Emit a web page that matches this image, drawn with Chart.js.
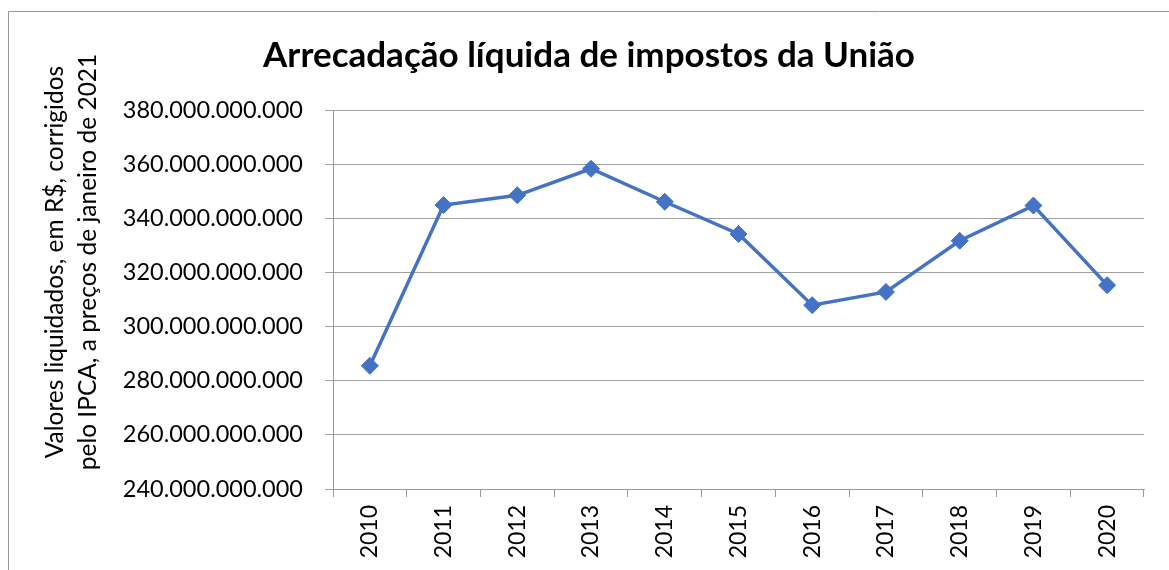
<!DOCTYPE html>
<html>
<head>
<meta charset="utf-8">
<script src="https://cdn.jsdelivr.net/npm/chart.js@4/dist/chart.umd.min.js"></script>
<style>
  body { margin: 0; background: #fff; }
</style>
</head>
<body>
<canvas id="myChart" width="1169" height="570"></canvas>
<script>
const years = ['2010','2011','2012','2013','2014','2015','2016','2017','2018','2019','2020'];
const arrecadacao = [285.5e9, 344.9e9, 348.5e9, 358.3e9, 346.1e9, 334.2e9, 307.9e9, 312.8e9, 331.7e9, 344.7e9, 315.3e9];
const yTitleLines = ['Valores liquidados, em R$, corrigidos', 'pelo IPCA, a preços de janeiro de 2021'];
const chartTitle = 'Arrecadação líquida de impostos da União';

const fontName = 'Lato';

// moldura cinza e titulo do eixo y
const extras = {
  id: 'extras',
  beforeDraw(chart) {
    const ctx = chart.ctx;
    ctx.save();
    ctx.strokeStyle = '#999';
    ctx.lineWidth = 1;
    ctx.beginPath();
    ctx.moveTo(8.5, 600);
    ctx.lineTo(8.5, 11.5);
    ctx.lineTo(1200, 11.5);
    ctx.stroke();
    ctx.restore();
  },
  afterDraw(chart) {
    const ctx = chart.ctx;
    ctx.save();
    ctx.font = '24.5px ' + fontName;
    ctx.fillStyle = '#000';
    ctx.textAlign = 'center';
    ctx.textBaseline = 'middle';
    const xs = [55, 88];
    yTitleLines.forEach((t, i) => {
      ctx.save();
      ctx.translate(xs[i], 262);
      ctx.rotate(-Math.PI / 2);
      ctx.fillText(t, 0, 0);
      ctx.restore();
    });
    ctx.restore();
  }
};

new Chart('myChart', {
  type: 'line',
  data: {
    labels: years,
    datasets: [{
      data: arrecadacao,
      borderColor: '#4472C4',
      backgroundColor: '#4472C4',
      borderWidth: 3.5,
      pointStyle: 'rectRot',
      pointRadius: 8.5,
      pointBorderWidth: 1,
      fill: false,
      tension: 0
    }]
  },
  options: {
    responsive: false,
    animation: false,
    layout: { padding: { left: 34, right: 25, top: 0, bottom: 0 } },
    plugins: {
      legend: { display: false },
      tooltip: { enabled: false },
      title: {
        display: true,
        text: chartTitle,
        color: '#000',
        font: { family: fontName, size: 35, weight: 'bold', lineHeight: 1.2 },
        padding: { top: 35, bottom: 33 }
      }
    },
    scales: {
      x: {
        offset: true,
        grid: { display: true, drawOnChartArea: false, offset: true, tickLength: 8, color: '#999' },
        border: { color: '#999' },
        ticks: { color: '#000', font: { family: fontName, size: 23 }, minRotation: 90, maxRotation: 90, padding: 8 },
        afterFit(scale) { scale.height = 81; }
      },
      y: {
        min: 240e9,
        max: 380e9,
        grid: { color: '#a0a0a0', tickLength: 8 },
        border: { color: '#999' },
        ticks: {
          stepSize: 20e9,
          color: '#000',
          padding: 22,
          font: { family: fontName, size: 23.5 },
          callback: v => v.toLocaleString('pt-BR')
        },
        afterFit(scale) { scale.width = 299; }
      }
    }
  },
  plugins: [extras]
});
</script>
</body>
</html>
